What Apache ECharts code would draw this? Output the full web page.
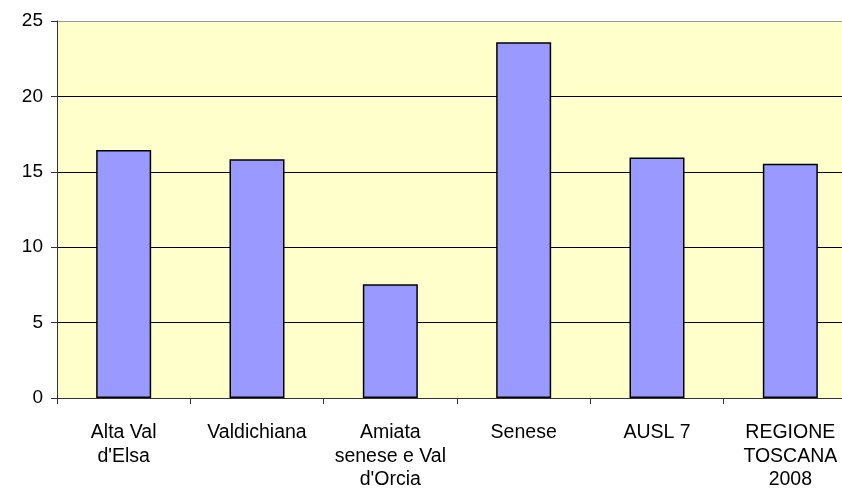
<!DOCTYPE html>
<html><head><meta charset="utf-8">
<script src="https://cdn.jsdelivr.net/npm/echarts@6/dist/echarts.min.js"></script>
<style>html,body{margin:0;padding:0;background:#fff}#c{width:842px;height:493px}</style>
</head><body><div id="c"></div>
<script>
const categories = ["Alta Val\nd'Elsa", "Valdichiana", "Amiata\nsenese e Val\nd'Orcia", "Senese", "AUSL 7", "REGIONE\nTOSCANA\n2008"];
const values = [16.45, 15.83, 7.54, 23.59, 15.94, 15.54];
const yTicks = [0, 5, 10, 15, 20, 25];

const chart = echarts.init(document.getElementById('c'), null, {renderer: 'canvas'});
chart.setOption({
  animation: false,
  backgroundColor: '#ffffff',
  grid: {left: 57, width: 800, top: 21, height: 377, outerBoundsMode: 'none', containLabel: false, show: true, backgroundColor: '#FFFFCC', borderWidth: 0},
  xAxis: {
    type: 'category', data: categories,
    axisLine: {lineStyle: {color: '#333', width: 1}},
    axisTick: {show: true, length: 6, alignWithLabel: false, lineStyle: {color: '#333'}},
    axisLabel: {color: '#000', fontFamily: 'Liberation Sans, Arial', fontSize: 19.5, lineHeight: 23.5, margin: 23, interval: 0}
  },
  yAxis: {
    type: 'value', min: yTicks[0], max: yTicks[yTicks.length - 1], interval: 5,
    axisLine: {show: true, lineStyle: {color: '#333', width: 1}},
    axisTick: {show: true, length: 6, lineStyle: {color: '#333'}},
    axisLabel: {color: '#000', fontFamily: 'Liberation Sans, Arial', fontSize: 19, margin: 14},
    splitLine: {show: true, lineStyle: {color: ['#000', '#000', '#000', '#000', '#000', '#999'], width: 1}}
  },
  series: [{
    type: 'bar', data: values, barWidth: 55,
    itemStyle: {color: '#9999FF', borderColor: '#000', borderWidth: 1.5}
  }]
});
</script></body></html>
